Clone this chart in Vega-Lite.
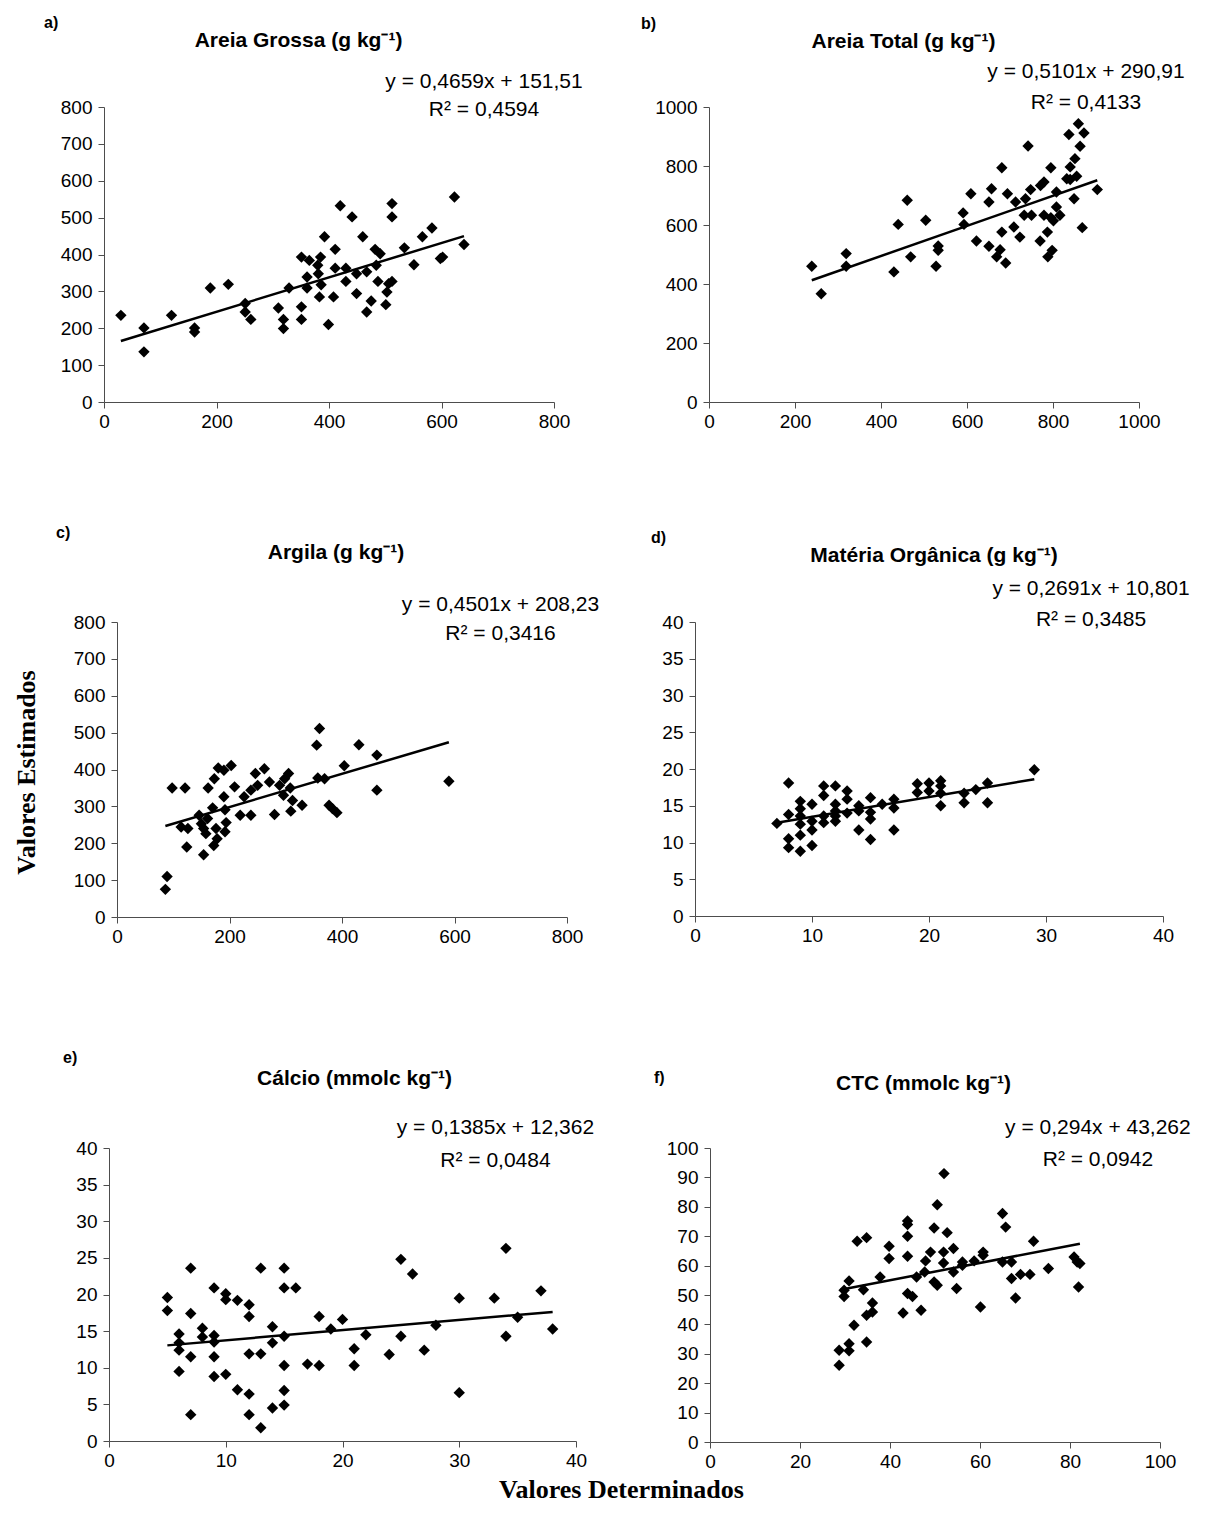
{
  "$schema": "https://vega.github.io/schema/vega-lite/v6.json",
  "padding": {"left": 13, "top": 14, "right": 5, "bottom": 5},
  "config": {
    "view": {"stroke": null},
    "axis": {
      "grid": false,
      "domainColor": "#4d4d4d",
      "tickColor": "#4d4d4d",
      "tickSize": 6,
      "labelFont": "Liberation Sans",
      "labelFontSize": 19,
      "labelColor": "black",
      "labelFlush": false,
      "labelOverlap": false,
      "titleFont": "Liberation Serif",
      "titleFontWeight": "bold",
      "titleFontSize": 26,
      "titleColor": "black"
    },
    "axisX": {"labelPadding": 4},
    "axisY": {"labelPadding": 6, "titleAngle": 270, "titleBaseline": "alphabetic", "titleAlign": "center"},
    "text": {"font": "Liberation Sans", "color": "black"},
    "point": {"shape": "diamond", "filled": true, "size": 130, "color": "black", "opacity": 1},
    "line": {"color": "black", "strokeWidth": 2.5}
  },
  "datasets": {
    "ag": [
      {"det": 30, "est": 235}, {"det": 71, "est": 201}, {"det": 71, "est": 136}, {"det": 120, "est": 235},
      {"det": 161, "est": 201}, {"det": 161, "est": 190}, {"det": 189, "est": 309}, {"det": 221, "est": 319},
      {"det": 251, "est": 267}, {"det": 251, "est": 244}, {"det": 261, "est": 224}, {"det": 310, "est": 255},
      {"det": 319, "est": 224}, {"det": 319, "est": 199}, {"det": 329, "est": 309}, {"det": 351, "est": 258},
      {"det": 351, "est": 224}, {"det": 351, "est": 393}, {"det": 361, "est": 339}, {"det": 361, "est": 309},
      {"det": 365, "est": 384}, {"det": 380, "est": 371}, {"det": 383, "est": 285}, {"det": 385, "est": 393},
      {"det": 386, "est": 318}, {"det": 381, "est": 348}, {"det": 392, "est": 448}, {"det": 399, "est": 210},
      {"det": 408, "est": 285}, {"det": 411, "est": 414}, {"det": 411, "est": 363}, {"det": 420, "est": 532},
      {"det": 430, "est": 363}, {"det": 430, "est": 327}, {"det": 441, "est": 502}, {"det": 449, "est": 294},
      {"det": 449, "est": 348}, {"det": 460, "est": 448}, {"det": 467, "est": 353}, {"det": 467, "est": 244},
      {"det": 475, "est": 274}, {"det": 482, "est": 414}, {"det": 484, "est": 371}, {"det": 491, "est": 402},
      {"det": 487, "est": 327}, {"det": 501, "est": 264}, {"det": 503, "est": 298}, {"det": 506, "est": 321},
      {"det": 512, "est": 327}, {"det": 512, "est": 538}, {"det": 512, "est": 502}, {"det": 534, "est": 418},
      {"det": 551, "est": 372}, {"det": 566, "est": 448}, {"det": 583, "est": 472}, {"det": 598, "est": 389},
      {"det": 602, "est": 393}, {"det": 623, "est": 556}, {"det": 640, "est": 427}
    ],
    "ag_reta": [{"det": 30, "est": 165.49}, {"det": 640, "est": 449.69}],
    "at": [
      {"det": 239, "est": 460}, {"det": 261, "est": 367}, {"det": 319, "est": 503}, {"det": 319, "est": 460},
      {"det": 430, "est": 441}, {"det": 440, "est": 602}, {"det": 461, "est": 684}, {"det": 469, "est": 492},
      {"det": 504, "est": 616}, {"det": 528, "est": 460}, {"det": 533, "est": 529}, {"det": 533, "est": 514},
      {"det": 591, "est": 641}, {"det": 593, "est": 602}, {"det": 609, "est": 706}, {"det": 622, "est": 546},
      {"det": 651, "est": 528}, {"det": 651, "est": 678}, {"det": 657, "est": 723}, {"det": 669, "est": 492},
      {"det": 677, "est": 516}, {"det": 681, "est": 576}, {"det": 681, "est": 794}, {"det": 690, "est": 471},
      {"det": 694, "est": 706}, {"det": 709, "est": 593}, {"det": 713, "est": 678}, {"det": 723, "est": 559},
      {"det": 733, "est": 633}, {"det": 736, "est": 689}, {"det": 742, "est": 868}, {"det": 748, "est": 720},
      {"det": 750, "est": 633}, {"det": 770, "est": 546}, {"det": 771, "est": 734}, {"det": 779, "est": 746},
      {"det": 779, "est": 633}, {"det": 787, "est": 576}, {"det": 788, "est": 492}, {"det": 795, "est": 625},
      {"det": 795, "est": 794}, {"det": 798, "est": 514}, {"det": 801, "est": 614}, {"det": 808, "est": 712},
      {"det": 808, "est": 661}, {"det": 816, "est": 633}, {"det": 837, "est": 907}, {"det": 840, "est": 754},
      {"det": 840, "est": 797}, {"det": 849, "est": 689}, {"det": 851, "est": 825}, {"det": 855, "est": 765},
      {"det": 859, "est": 943}, {"det": 863, "est": 867}, {"det": 868, "est": 591}, {"det": 872, "est": 912},
      {"det": 903, "est": 720}, {"det": 832, "est": 757}
    ],
    "at_reta": [{"det": 239, "est": 412.82}, {"det": 903, "est": 751.53}],
    "arg": [
      {"det": 86, "est": 75}, {"det": 89, "est": 110}, {"det": 98, "est": 350}, {"det": 121, "est": 350},
      {"det": 114, "est": 244}, {"det": 126, "est": 240}, {"det": 124, "est": 190}, {"det": 146, "est": 276},
      {"det": 150, "est": 253}, {"det": 154, "est": 240}, {"det": 154, "est": 169}, {"det": 158, "est": 226},
      {"det": 161, "est": 267}, {"det": 162, "est": 350}, {"det": 170, "est": 296}, {"det": 173, "est": 375},
      {"det": 172, "est": 194}, {"det": 176, "est": 240}, {"det": 178, "est": 212}, {"det": 180, "est": 404},
      {"det": 190, "est": 326}, {"det": 190, "est": 398}, {"det": 192, "est": 291}, {"det": 192, "est": 231},
      {"det": 194, "est": 256}, {"det": 203, "est": 411}, {"det": 209, "est": 353}, {"det": 219, "est": 276},
      {"det": 226, "est": 326}, {"det": 238, "est": 276}, {"det": 238, "est": 344}, {"det": 246, "est": 389},
      {"det": 250, "est": 357}, {"det": 262, "est": 402}, {"det": 271, "est": 366}, {"det": 280, "est": 278},
      {"det": 289, "est": 357}, {"det": 298, "est": 375}, {"det": 296, "est": 330}, {"det": 305, "est": 389},
      {"det": 308, "est": 350}, {"det": 309, "est": 287}, {"det": 312, "est": 316}, {"det": 329, "est": 303},
      {"det": 355, "est": 466}, {"det": 360, "est": 511}, {"det": 357, "est": 377}, {"det": 369, "est": 375},
      {"det": 377, "est": 303}, {"det": 383, "est": 294}, {"det": 391, "est": 283}, {"det": 404, "est": 410},
      {"det": 430, "est": 467}, {"det": 462, "est": 344}, {"det": 462, "est": 439}, {"det": 590, "est": 368}
    ],
    "arg_reta": [{"det": 86, "est": 246.94}, {"det": 590, "est": 473.79}],
    "mo": [
      {"det": 7, "est": 12.6}, {"det": 8, "est": 18.1}, {"det": 8, "est": 13.8}, {"det": 8, "est": 10.5},
      {"det": 8, "est": 9.3}, {"det": 9, "est": 15.6}, {"det": 9, "est": 14.6}, {"det": 9, "est": 13.6},
      {"det": 9, "est": 12.5}, {"det": 9, "est": 11.0}, {"det": 9, "est": 8.8}, {"det": 10, "est": 15.2},
      {"det": 10, "est": 12.9}, {"det": 10, "est": 11.7}, {"det": 10, "est": 9.6}, {"det": 11, "est": 17.7},
      {"det": 11, "est": 16.4}, {"det": 11, "est": 13.6}, {"det": 11, "est": 12.7}, {"det": 12, "est": 17.7},
      {"det": 12, "est": 15.2}, {"det": 12, "est": 14.3}, {"det": 12, "est": 13.6}, {"det": 12, "est": 12.9},
      {"det": 13, "est": 17.0}, {"det": 13, "est": 15.9}, {"det": 13, "est": 14.0}, {"det": 14, "est": 15.0},
      {"det": 14, "est": 14.3}, {"det": 14, "est": 11.7}, {"det": 15, "est": 16.1}, {"det": 15, "est": 14.1},
      {"det": 15, "est": 13.2}, {"det": 15, "est": 10.4}, {"det": 16, "est": 15.2}, {"det": 17, "est": 15.9},
      {"det": 17, "est": 14.7}, {"det": 17, "est": 11.7}, {"det": 19, "est": 18.0}, {"det": 19, "est": 16.8},
      {"det": 20, "est": 18.1}, {"det": 20, "est": 17.0}, {"det": 21, "est": 18.4}, {"det": 21, "est": 17.7},
      {"det": 21, "est": 16.7}, {"det": 21, "est": 15.0}, {"det": 23, "est": 16.7}, {"det": 23, "est": 15.4},
      {"det": 24, "est": 17.2}, {"det": 25, "est": 18.1}, {"det": 25, "est": 15.4}, {"det": 29, "est": 19.9}
    ],
    "mo_reta": [{"det": 7, "est": 12.68}, {"det": 29, "est": 18.61}],
    "ca": [
      {"det": 5, "est": 19.6}, {"det": 5, "est": 17.8}, {"det": 6, "est": 14.6}, {"det": 6, "est": 13.4},
      {"det": 6, "est": 12.4}, {"det": 6, "est": 9.5}, {"det": 7, "est": 23.6}, {"det": 7, "est": 17.4},
      {"det": 7, "est": 11.5}, {"det": 7, "est": 3.6}, {"det": 8, "est": 15.4}, {"det": 8, "est": 14.2},
      {"det": 9, "est": 20.9}, {"det": 9, "est": 14.4}, {"det": 9, "est": 13.5}, {"det": 9, "est": 11.5},
      {"det": 9, "est": 8.8}, {"det": 10, "est": 20.1}, {"det": 10, "est": 19.3}, {"det": 10, "est": 9.1},
      {"det": 11, "est": 19.2}, {"det": 11, "est": 7.0}, {"det": 12, "est": 18.6}, {"det": 12, "est": 17.0},
      {"det": 12, "est": 11.9}, {"det": 12, "est": 6.4}, {"det": 12, "est": 3.6}, {"det": 13, "est": 23.6},
      {"det": 13, "est": 11.9}, {"det": 13, "est": 1.8}, {"det": 14, "est": 15.6}, {"det": 14, "est": 13.4},
      {"det": 14, "est": 4.5}, {"det": 15, "est": 23.6}, {"det": 15, "est": 20.9}, {"det": 15, "est": 14.3},
      {"det": 15, "est": 10.3}, {"det": 15, "est": 6.9}, {"det": 15, "est": 4.9}, {"det": 16, "est": 20.9},
      {"det": 17, "est": 10.5}, {"det": 18, "est": 17.0}, {"det": 18, "est": 10.3}, {"det": 19, "est": 15.3},
      {"det": 20, "est": 16.6}, {"det": 21, "est": 12.6}, {"det": 21, "est": 10.3}, {"det": 22, "est": 14.5},
      {"det": 24, "est": 11.8}, {"det": 25, "est": 24.8}, {"det": 25, "est": 14.3}, {"det": 26, "est": 22.8},
      {"det": 27, "est": 12.4}, {"det": 28, "est": 15.8}, {"det": 30, "est": 19.5}, {"det": 30, "est": 6.6},
      {"det": 33, "est": 19.5}, {"det": 34, "est": 26.3}, {"det": 34, "est": 14.3}, {"det": 35, "est": 16.9},
      {"det": 37, "est": 20.5}, {"det": 38, "est": 15.3}
    ],
    "ca_reta": [{"det": 5, "est": 13.055}, {"det": 38, "est": 17.625}],
    "ctc": [
      {"det": 28.7, "est": 26.1}, {"det": 28.7, "est": 31.2}, {"det": 30.9, "est": 33.4}, {"det": 30.9, "est": 31.0},
      {"det": 29.8, "est": 49.5}, {"det": 29.8, "est": 51.6}, {"det": 30.9, "est": 54.8}, {"det": 32.0, "est": 39.7},
      {"det": 32.7, "est": 68.3}, {"det": 34.8, "est": 69.5}, {"det": 34.1, "est": 51.8}, {"det": 34.8, "est": 43.1},
      {"det": 34.8, "est": 34.0}, {"det": 36.1, "est": 47.3}, {"det": 36.1, "est": 44.2}, {"det": 37.8, "est": 56.1},
      {"det": 39.8, "est": 66.6}, {"det": 39.8, "est": 62.4}, {"det": 42.9, "est": 43.9}, {"det": 43.9, "est": 75.2},
      {"det": 43.9, "est": 74.0}, {"det": 43.9, "est": 70.0}, {"det": 43.9, "est": 63.2}, {"det": 43.9, "est": 50.5},
      {"det": 45.0, "est": 49.5}, {"det": 45.9, "est": 56.1}, {"det": 46.9, "est": 44.8}, {"det": 47.9, "est": 61.6},
      {"det": 47.7, "est": 57.8}, {"det": 49.0, "est": 64.6}, {"det": 49.8, "est": 72.8}, {"det": 49.8, "est": 54.4},
      {"det": 50.5, "est": 80.7}, {"det": 50.5, "est": 53.3}, {"det": 52.0, "est": 91.3}, {"det": 51.9, "est": 64.6},
      {"det": 51.9, "est": 60.9}, {"det": 52.7, "est": 71.2}, {"det": 54.1, "est": 65.8}, {"det": 54.1, "est": 57.8},
      {"det": 54.8, "est": 52.2}, {"det": 56.1, "est": 61.2}, {"det": 56.1, "est": 60.1}, {"det": 58.7, "est": 61.6},
      {"det": 60.1, "est": 45.9}, {"det": 60.7, "est": 63.5}, {"det": 60.7, "est": 64.6}, {"det": 65.0, "est": 77.7},
      {"det": 65.7, "est": 73.1}, {"det": 65.0, "est": 61.2}, {"det": 67.0, "est": 61.2}, {"det": 67.0, "est": 55.6},
      {"det": 67.9, "est": 49.0}, {"det": 69.0, "est": 57.0}, {"det": 71.1, "est": 57.0}, {"det": 71.9, "est": 68.3},
      {"det": 75.2, "est": 59.0}, {"det": 80.9, "est": 62.9}, {"det": 81.6, "est": 61.2}, {"det": 82.2, "est": 60.7},
      {"det": 81.9, "est": 52.7}
    ],
    "ctc_reta": [{"det": 29, "est": 51.79}, {"det": 82.2, "est": 67.43}]
  },
  "vconcat": [
    {
      "hconcat": [
        {
          "width": 450, "height": 295,
          "layer": [
            {
              "encoding": {
                "x": {"field": "det", "type": "quantitative", "scale": {"domain": [0, 800], "nice": false}, "axis": {"values": [0, 200, 400, 600, 800], "format": "d", "title": null}},
                "y": {"field": "est", "type": "quantitative", "scale": {"domain": [0, 800], "nice": false}, "axis": {"values": [0, 100, 200, 300, 400, 500, 600, 700, 800], "format": "d", "title": null}}
              },
              "layer": [
                {"data": {"name": "ag"}, "mark": "point"},
                {"data": {"name": "ag_reta"}, "mark": "line"}
              ]
            },
            {"data": {"values": [{}]}, "mark": {"type": "text", "fontSize": 21, "align": "center", "baseline": "alphabetic", "lineHeight": 28, "text": ["y = 0,4659x + 151,51", "R² = 0,4594"]},
             "encoding": {"x": {"datum": 675.6, "axis": {"values": [0, 200, 400, 600, 800], "format": "d", "title": null}}, "y": {"datum": 851.5, "axis": {"values": [0, 100, 200, 300, 400, 500, 600, 700, 800], "format": "d", "title": null}}}},
            {"data": {"values": [{}]}, "mark": {"type": "text", "fontSize": 21, "fontWeight": "bold", "align": "center", "baseline": "alphabetic", "text": "Areia Grossa (g kg⁻¹)"},
             "encoding": {"x": {"datum": 345.8, "axis": {"values": [0, 200, 400, 600, 800], "format": "d", "title": null}}, "y": {"datum": 962.7, "axis": {"values": [0, 100, 200, 300, 400, 500, 600, 700, 800], "format": "d", "title": null}}}},
            {"data": {"values": [{}]}, "mark": {"type": "text", "fontSize": 16, "fontWeight": "bold", "align": "left", "baseline": "alphabetic", "text": "a)"},
             "encoding": {"x": {"datum": -106.7, "axis": {"values": [0, 200, 400, 600, 800], "format": "d", "title": null}}, "y": {"datum": 1014.3, "axis": {"values": [0, 100, 200, 300, 400, 500, 600, 700, 800], "format": "d", "title": null}}}}
          ]
        },
        {
          "width": 430, "height": 295,
          "layer": [
            {
              "encoding": {
                "x": {"field": "det", "type": "quantitative", "scale": {"domain": [0, 1000], "nice": false}, "axis": {"values": [0, 200, 400, 600, 800, 1000], "format": "d", "title": null}},
                "y": {"field": "est", "type": "quantitative", "scale": {"domain": [0, 1000], "nice": false}, "axis": {"values": [0, 200, 400, 600, 800, 1000], "format": "d", "title": null}}
              },
              "layer": [
                {"data": {"name": "at"}, "mark": "point"},
                {"data": {"name": "at_reta"}, "mark": "line"}
              ]
            },
            {"data": {"values": [{}]}, "mark": {"type": "text", "fontSize": 21, "align": "center", "baseline": "alphabetic", "lineHeight": 31, "text": ["y = 0,5101x + 290,91", "R² = 0,4133"]},
             "encoding": {"x": {"datum": 876.7, "axis": {"values": [0, 200, 400, 600, 800, 1000], "format": "d", "title": null}}, "y": {"datum": 1097.3, "axis": {"values": [0, 200, 400, 600, 800, 1000], "format": "d", "title": null}}}},
            {"data": {"values": [{}]}, "mark": {"type": "text", "fontSize": 21, "fontWeight": "bold", "align": "center", "baseline": "alphabetic", "text": "Areia Total (g kg⁻¹)"},
             "encoding": {"x": {"datum": 452.3, "axis": {"values": [0, 200, 400, 600, 800, 1000], "format": "d", "title": null}}, "y": {"datum": 1200, "axis": {"values": [0, 200, 400, 600, 800, 1000], "format": "d", "title": null}}}},
            {"data": {"values": [{}]}, "mark": {"type": "text", "fontSize": 16, "fontWeight": "bold", "align": "left", "baseline": "alphabetic", "text": "b)"},
             "encoding": {"x": {"datum": -158.1, "axis": {"values": [0, 200, 400, 600, 800, 1000], "format": "d", "title": null}}, "y": {"datum": 1264.4, "axis": {"values": [0, 200, 400, 600, 800, 1000], "format": "d", "title": null}}}}
          ]
        }
      ],
      "bounds": "flush",
      "spacing": 155
    },
    {
      "hconcat": [
        {"width": 13, "height": 1, "data": {"values": []}, "mark": "text"},
        {
          "hconcat": [
            {
              "width": 450, "height": 295,
              "layer": [
                {
                  "encoding": {
                    "x": {"field": "det", "type": "quantitative", "scale": {"domain": [0, 800], "nice": false}, "axis": {"values": [0, 200, 400, 600, 800], "format": "d", "title": " ", "titleY": 34.75, "titleBaseline": "alphabetic"}},
                    "y": {"field": "est", "type": "quantitative", "scale": {"domain": [0, 800], "nice": false}, "axis": {"values": [0, 100, 200, 300, 400, 500, 600, 700, 800], "format": "d", "title": "Valores Estimados", "titleX": -83, "titleY": 150}}
                  },
                  "layer": [
                    {"data": {"name": "arg"}, "mark": "point"},
                    {"data": {"name": "arg_reta"}, "mark": "line"}
                  ]
                },
                {"data": {"values": [{}]}, "mark": {"type": "text", "fontSize": 21, "align": "center", "baseline": "alphabetic", "lineHeight": 29, "text": ["y = 0,4501x + 208,23", "R² = 0,3416"]},
                 "encoding": {"x": {"datum": 681.8, "axis": {"values": [0, 200, 400, 600, 800], "format": "d", "title": " ", "titleY": 34.75, "titleBaseline": "alphabetic"}}, "y": {"datum": 829.8, "axis": {"values": [0, 100, 200, 300, 400, 500, 600, 700, 800], "format": "d", "title": "Valores Estimados", "titleX": -83, "titleY": 150}}}},
                {"data": {"values": [{}]}, "mark": {"type": "text", "fontSize": 21, "fontWeight": "bold", "align": "center", "baseline": "alphabetic", "text": "Argila (g kg⁻¹)"},
                 "encoding": {"x": {"datum": 389.3, "axis": {"values": [0, 200, 400, 600, 800], "format": "d", "title": " ", "titleY": 34.75, "titleBaseline": "alphabetic"}}, "y": {"datum": 970.9, "axis": {"values": [0, 100, 200, 300, 400, 500, 600, 700, 800], "format": "d", "title": "Valores Estimados", "titleX": -83, "titleY": 150}}}},
                {"data": {"values": [{}]}, "mark": {"type": "text", "fontSize": 16, "fontWeight": "bold", "align": "left", "baseline": "alphabetic", "text": "c)"},
                 "encoding": {"x": {"datum": -108.4, "axis": {"values": [0, 200, 400, 600, 800], "format": "d", "title": " ", "titleY": 34.75, "titleBaseline": "alphabetic"}}, "y": {"datum": 1027.8, "axis": {"values": [0, 100, 200, 300, 400, 500, 600, 700, 800], "format": "d", "title": "Valores Estimados", "titleX": -83, "titleY": 150}}}}
              ]
            },
            {
              "width": 468, "height": 294,
              "layer": [
                {
                  "encoding": {
                    "x": {"field": "det", "type": "quantitative", "scale": {"domain": [0, 40], "nice": false}, "axis": {"values": [0, 10, 20, 30, 40], "format": "d", "title": null}},
                    "y": {"field": "est", "type": "quantitative", "scale": {"domain": [0, 40], "nice": false}, "axis": {"values": [0, 5, 10, 15, 20, 25, 30, 35, 40], "format": "d", "title": null}}
                  },
                  "layer": [
                    {"data": {"name": "mo"}, "mark": "point"},
                    {"data": {"name": "mo_reta"}, "mark": "line"}
                  ]
                },
                {"data": {"values": [{}]}, "mark": {"type": "text", "fontSize": 21, "align": "center", "baseline": "alphabetic", "lineHeight": 31, "text": ["y = 0,2691x + 10,801", "R² = 0,3485"]},
                 "encoding": {"x": {"datum": 33.85, "axis": {"values": [0, 10, 20, 30, 40], "format": "d", "title": null}}, "y": {"datum": 43.67, "axis": {"values": [0, 5, 10, 15, 20, 25, 30, 35, 40], "format": "d", "title": null}}}},
                {"data": {"values": [{}]}, "mark": {"type": "text", "fontSize": 21, "fontWeight": "bold", "align": "center", "baseline": "alphabetic", "text": "Matéria Orgânica (g kg⁻¹)"},
                 "encoding": {"x": {"datum": 20.43, "axis": {"values": [0, 10, 20, 30, 40], "format": "d", "title": null}}, "y": {"datum": 48.16, "axis": {"values": [0, 5, 10, 15, 20, 25, 30, 35, 40], "format": "d", "title": null}}}},
                {"data": {"values": [{}]}, "mark": {"type": "text", "fontSize": 16, "fontWeight": "bold", "align": "left", "baseline": "alphabetic", "text": "d)"},
                 "encoding": {"x": {"datum": -3.76, "axis": {"values": [0, 10, 20, 30, 40], "format": "d", "title": null}}, "y": {"datum": 50.75, "axis": {"values": [0, 5, 10, 15, 20, 25, 30, 35, 40], "format": "d", "title": null}}}}
              ]
            }
          ],
          "bounds": "flush",
          "spacing": 128
        }
      ],
      "bounds": "flush",
      "spacing": 0
    },
    {
      "hconcat": [
        {"width": 5, "height": 1, "data": {"values": []}, "mark": "text"},
        {
          "hconcat": [
            {
              "width": 467, "height": 293,
              "layer": [
                {
                  "encoding": {
                    "x": {"field": "det", "type": "quantitative", "scale": {"domain": [0, 40], "nice": false}, "axis": {"values": [0, 10, 20, 30, 40], "format": "d", "title": "Valores Determinados", "titleX": 512, "titleY": 56, "titleAlign": "center", "titleBaseline": "alphabetic"}},
                    "y": {"field": "est", "type": "quantitative", "scale": {"domain": [0, 40], "nice": false}, "axis": {"values": [0, 5, 10, 15, 20, 25, 30, 35, 40], "format": "d", "title": null}}
                  },
                  "layer": [
                    {"data": {"name": "ca"}, "mark": "point"},
                    {"data": {"name": "ca_reta"}, "mark": "line"}
                  ]
                },
                {"data": {"values": [{}]}, "mark": {"type": "text", "fontSize": 21, "align": "center", "baseline": "alphabetic", "lineHeight": 33, "text": ["y = 0,1385x + 12,362", "R² = 0,0484"]},
                 "encoding": {"x": {"datum": 33.1, "axis": {"values": [0, 10, 20, 30, 40], "format": "d", "title": "Valores Determinados", "titleX": 512, "titleY": 56, "titleAlign": "center", "titleBaseline": "alphabetic"}}, "y": {"datum": 41.91, "axis": {"values": [0, 5, 10, 15, 20, 25, 30, 35, 40], "format": "d", "title": null}}}},
                {"data": {"values": [{}]}, "mark": {"type": "text", "fontSize": 21, "fontWeight": "bold", "align": "center", "baseline": "alphabetic", "text": "Cálcio (mmolc kg⁻¹)"},
                 "encoding": {"x": {"datum": 21.03, "axis": {"values": [0, 10, 20, 30, 40], "format": "d", "title": "Valores Determinados", "titleX": 512, "titleY": 56, "titleAlign": "center", "titleBaseline": "alphabetic"}}, "y": {"datum": 48.6, "axis": {"values": [0, 5, 10, 15, 20, 25, 30, 35, 40], "format": "d", "title": null}}}},
                {"data": {"values": [{}]}, "mark": {"type": "text", "fontSize": 16, "fontWeight": "bold", "align": "left", "baseline": "alphabetic", "text": "e)"},
                 "encoding": {"x": {"datum": -3.94, "axis": {"values": [0, 10, 20, 30, 40], "format": "d", "title": "Valores Determinados", "titleX": 512, "titleY": 56, "titleAlign": "center", "titleBaseline": "alphabetic"}}, "y": {"datum": 51.6, "axis": {"values": [0, 5, 10, 15, 20, 25, 30, 35, 40], "format": "d", "title": null}}}}
              ]
            },
            {
              "width": 450, "height": 294,
              "layer": [
                {
                  "encoding": {
                    "x": {"field": "det", "type": "quantitative", "scale": {"domain": [0, 100], "nice": false}, "axis": {"values": [0, 20, 40, 60, 80, 100], "format": "d", "title": null}},
                    "y": {"field": "est", "type": "quantitative", "scale": {"domain": [0, 100], "nice": false}, "axis": {"values": [0, 10, 20, 30, 40, 50, 60, 70, 80, 90, 100], "format": "d", "title": null}}
                  },
                  "layer": [
                    {"data": {"name": "ctc"}, "mark": "point"},
                    {"data": {"name": "ctc_reta"}, "mark": "line"}
                  ]
                },
                {"data": {"values": [{}]}, "mark": {"type": "text", "fontSize": 21, "align": "center", "baseline": "alphabetic", "lineHeight": 32, "text": ["y = 0,294x + 43,262", "R² = 0,0942"]},
                 "encoding": {"x": {"datum": 86.2, "axis": {"values": [0, 20, 40, 60, 80, 100], "format": "d", "title": null}}, "y": {"datum": 104.8, "axis": {"values": [0, 10, 20, 30, 40, 50, 60, 70, 80, 90, 100], "format": "d", "title": null}}}},
                {"data": {"values": [{}]}, "mark": {"type": "text", "fontSize": 21, "fontWeight": "bold", "align": "center", "baseline": "alphabetic", "text": "CTC (mmolc kg⁻¹)"},
                 "encoding": {"x": {"datum": 47.44, "axis": {"values": [0, 20, 40, 60, 80, 100], "format": "d", "title": null}}, "y": {"datum": 119.7, "axis": {"values": [0, 10, 20, 30, 40, 50, 60, 70, 80, 90, 100], "format": "d", "title": null}}}},
                {"data": {"values": [{}]}, "mark": {"type": "text", "fontSize": 16, "fontWeight": "bold", "align": "left", "baseline": "alphabetic", "text": "f)"},
                 "encoding": {"x": {"datum": -12.44, "axis": {"values": [0, 20, 40, 60, 80, 100], "format": "d", "title": null}}, "y": {"datum": 122.1, "axis": {"values": [0, 10, 20, 30, 40, 50, 60, 70, 80, 90, 100], "format": "d", "title": null}}}}
              ]
            }
          ],
          "bounds": "flush",
          "spacing": 134
        }
      ],
      "bounds": "flush",
      "spacing": 0
    }
  ],
  "spacing": 93
}
